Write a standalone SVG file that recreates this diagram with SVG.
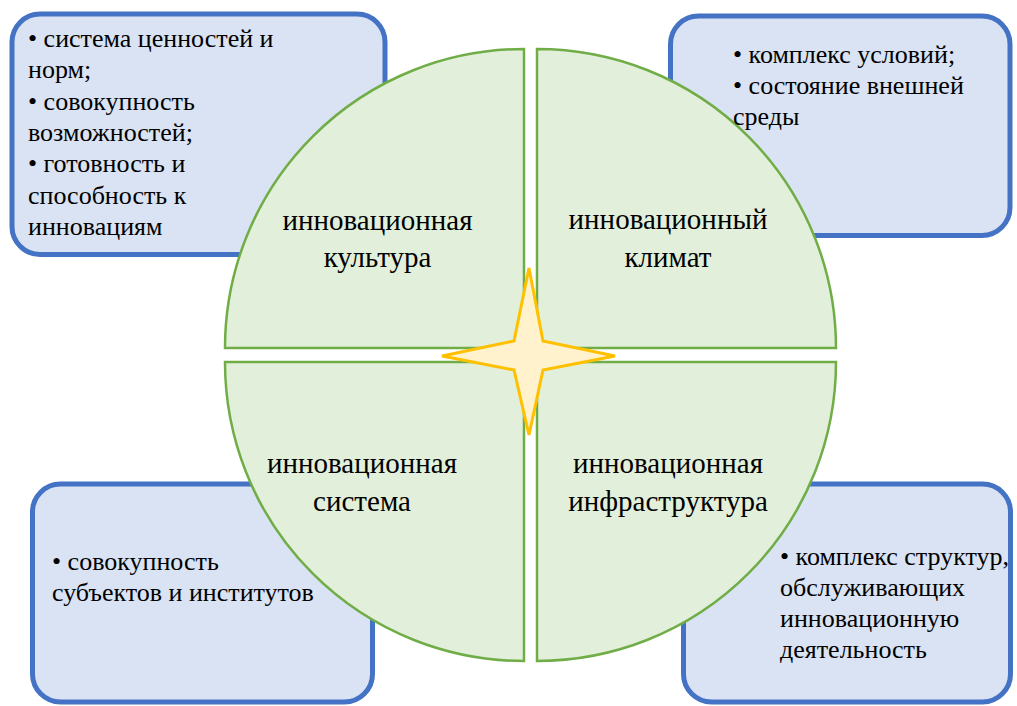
<svg xmlns="http://www.w3.org/2000/svg" width="1017" height="706" viewBox="0 0 1017 706">
  <defs>
    <!-- shared shapes: box frame look and quadrant look are set on the groups below -->
  </defs>
  <rect width="1017" height="706" fill="#FFFFFF"/>

  <!-- description boxes (backgrounds) -->
  <g fill="#DAE3F3" stroke="#4472C4" stroke-width="5">
    <g id="box-culture"><rect x="12" y="14" width="373" height="240.5" rx="28"/></g>
    <g id="box-climate"><rect x="670.5" y="16" width="339.5" height="219.5" rx="28"/></g>
    <g id="box-system"><rect x="32.5" y="484" width="340" height="218" rx="28"/></g>
    <g id="box-infrastructure"><rect x="683.5" y="484" width="327" height="218" rx="28"/></g>
  </g>

  <!-- four quadrants of the circle -->
  <g id="sector-culture">
    <path fill="#E2EFDA" stroke="#70AD47" stroke-width="2.5" d="M 524 348 L 225 348 A 299 299 0 0 1 524 49 Z"/>
  </g>
  <g id="sector-climate">
    <path fill="#E2EFDA" stroke="#70AD47" stroke-width="2.5" d="M 537 348 L 537 49 A 299 299 0 0 1 836 348 Z"/>
  </g>
  <g id="sector-system">
    <path fill="#E2EFDA" stroke="#70AD47" stroke-width="2.5" d="M 524 362 L 524 661 A 299 299 0 0 1 225 362 Z"/>
  </g>
  <g id="sector-infrastructure">
    <path fill="#E2EFDA" stroke="#70AD47" stroke-width="2.5" d="M 537 362 L 836 362 A 299 299 0 0 1 537 661 Z"/>
  </g>

  <!-- central four-pointed star -->
  <g id="star">
    <polygon fill="#FFF2CC" stroke="#FFC000" stroke-width="3" points="529,268 543,341 615,356 543,370 529,435 514,370 442,356 514,341"/>
  </g>

  <!-- quadrant labels -->
  <text x="377.5" y="230" font-family="Liberation Serif" font-size="29" text-anchor="middle">инновационная</text>
  <text x="377.5" y="267" font-family="Liberation Serif" font-size="29" text-anchor="middle">культура</text>
  <text x="668" y="229" font-family="Liberation Serif" font-size="29" text-anchor="middle">инновационный</text>
  <text x="668" y="267" font-family="Liberation Serif" font-size="29" text-anchor="middle">климат</text>
  <text x="362" y="473" font-family="Liberation Serif" font-size="29" text-anchor="middle">инновационная</text>
  <text x="362" y="511" font-family="Liberation Serif" font-size="29" text-anchor="middle">система</text>
  <text x="668" y="473" font-family="Liberation Serif" font-size="29" text-anchor="middle">инновационная</text>
  <text x="668" y="511" font-family="Liberation Serif" font-size="29" text-anchor="middle">инфраструктура</text>

  <!-- box texts -->
  <text x="28" y="47" font-family="Liberation Serif" font-size="26">• система ценностей и</text>
  <text x="28" y="78.3" font-family="Liberation Serif" font-size="26">норм;</text>
  <text x="28" y="109.6" font-family="Liberation Serif" font-size="26">• совокупность</text>
  <text x="28" y="140.9" font-family="Liberation Serif" font-size="26">возможностей;</text>
  <text x="28" y="172.2" font-family="Liberation Serif" font-size="26">• готовность и</text>
  <text x="28" y="203.5" font-family="Liberation Serif" font-size="26">способность к</text>
  <text x="28" y="234.8" font-family="Liberation Serif" font-size="26">инновациям</text>

  <text x="733" y="63" font-family="Liberation Serif" font-size="26">• комплекс условий;</text>
  <text x="733" y="94" font-family="Liberation Serif" font-size="26">• состояние внешней</text>
  <text x="733" y="125" font-family="Liberation Serif" font-size="26">среды</text>

  <text x="52" y="570" font-family="Liberation Serif" font-size="26">• совокупность</text>
  <text x="52" y="601" font-family="Liberation Serif" font-size="26">субъектов и институтов</text>

  <text x="780" y="565" font-family="Liberation Serif" font-size="26">• комплекс структур,</text>
  <text x="780" y="596" font-family="Liberation Serif" font-size="26">обслуживающих</text>
  <text x="780" y="627" font-family="Liberation Serif" font-size="26">инновационную</text>
  <text x="780" y="658" font-family="Liberation Serif" font-size="26">деятельность</text>
</svg>
